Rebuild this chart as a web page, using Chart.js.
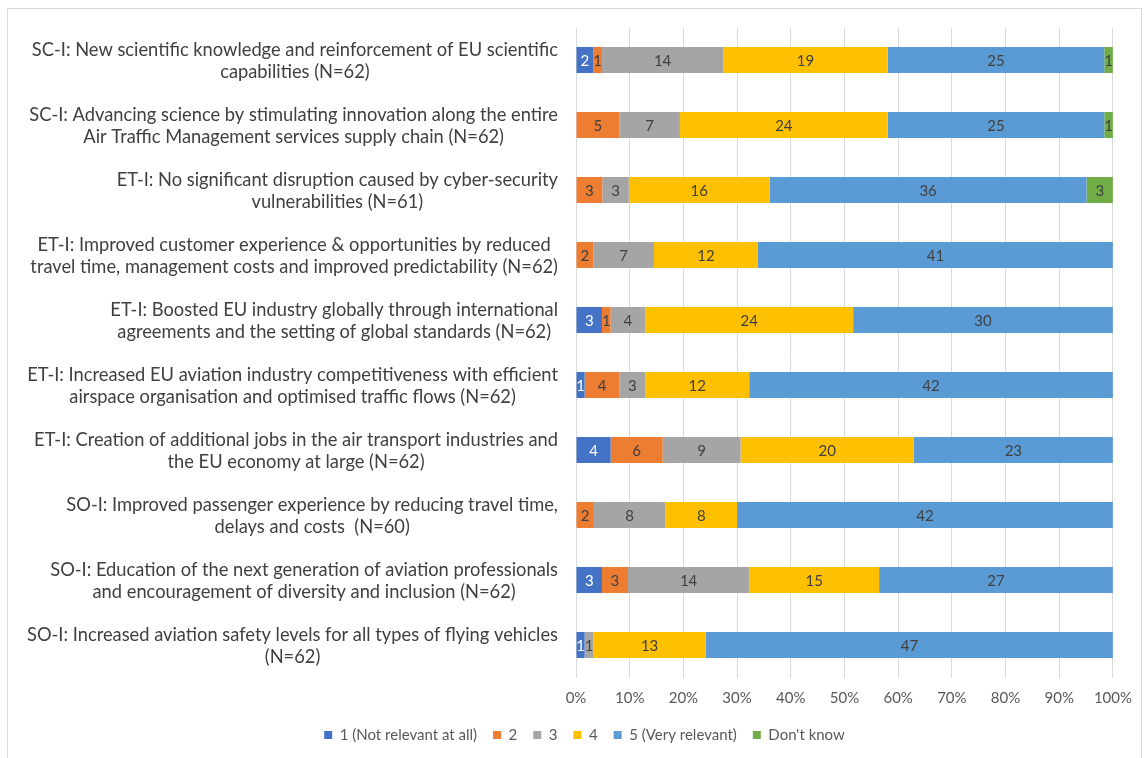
<!DOCTYPE html>
<html>
<head>
<meta charset="utf-8">
<script src="https://cdn.jsdelivr.net/npm/chart.js@4.4.0/dist/chart.umd.min.js"></script>
<style>
html, body { margin:0; padding:0; background:#fff; width:1144px; height:758px; overflow:hidden; }
#frame { position:absolute; left:7px; top:8px; width:1133px; height:800px; border:1px solid #d9d9d9; }
#c { position:absolute; left:0; top:0; }
</style>
</head>
<body>
<div id="frame"></div>
<canvas id="c" width="1144" height="780"></canvas>
<script>
var categories = [
    ["SC-I: New scientific knowledge and reinforcement of EU scientific", "capabilities (N=62)"],
    ["SC-I: Advancing science by stimulating innovation along the entire", "Air Traffic Management services supply chain (N=62)"],
    ["ET-I: No significant disruption caused by cyber-security", "vulnerabilities (N=61)"],
    ["ET-I: Improved customer experience & opportunities by reduced", "travel time, management costs and improved predictability (N=62)"],
    ["ET-I: Boosted EU industry globally through international", "agreements and the setting of global standards (N=62)"],
    ["ET-I: Increased EU aviation industry competitiveness with efficient", "airspace organisation and optimised traffic flows (N=62)"],
    ["ET-I: Creation of additional jobs in the air transport industries and", "the EU economy at large (N=62)"],
    ["SO-I: Improved passenger experience by reducing travel time,", "delays and costs  (N=60)"],
    ["SO-I: Education of the next generation of aviation professionals", "and encouragement of diversity and inclusion (N=62)"],
    ["SO-I: Increased aviation safety levels for all types of flying vehicles", "(N=62)"]
];
var seriesNames = ["1 (Not relevant at all)", "2", "3", "4", "5 (Very relevant)", "Don't know"];
var notRelevant  = [2, 0, 0, 0, 3, 1, 4, 0, 3, 1];
var score2       = [1, 5, 3, 2, 1, 4, 6, 2, 3, 0];
var score3       = [14, 7, 3, 7, 4, 3, 9, 8, 14, 1];
var score4       = [19, 24, 16, 12, 24, 12, 20, 8, 15, 13];
var veryRelevant = [25, 25, 36, 41, 30, 42, 23, 42, 27, 47];
var dontKnow     = [1, 1, 3, 0, 0, 0, 0, 0, 0, 0];
var xTickLabels  = ["0%", "10%", "20%", "30%", "40%", "50%", "60%", "70%", "80%", "90%", "100%"];

var colors = ['#4472C4', '#ED7D31', '#A5A5A5', '#FFC000', '#5B9BD5', '#70AD47'];
var counts = [notRelevant, score2, score3, score4, veryRelevant, dontKnow];

// totals per row, to turn counts into shares of 100%
var totals = categories.map(function(c, i){
    var s = 0;
    counts.forEach(function(arr){ s += arr[i]; });
    return s;
});

var datasets = counts.map(function(arr, k){
    return {
        label: seriesNames[k],
        data: arr.map(function(v, i){ return v / totals[i] * 100; }),
        counts: arr,
        backgroundColor: colors[k],
        borderWidth: 0,
        barPercentage: 0.4,
        categoryPercentage: 1.0
    };
});

var FONT = 'Lato, "Open Sans", sans-serif';

// value labels in the middle of each segment
var segmentLabels = {
    id: 'segmentLabels',
    afterDatasetsDraw: function(chart){
        var ctx = chart.ctx;
        ctx.save();
        ctx.font = '15px ' + FONT;
        ctx.textAlign = 'center';
        ctx.textBaseline = 'middle';
        chart.data.datasets.forEach(function(ds, k){
            var meta = chart.getDatasetMeta(k);
            meta.data.forEach(function(bar, i){
                var n = ds.counts[i];
                if (!n) return;
                ctx.fillStyle = k === 0 ? '#ffffff' : '#404040';
                ctx.fillText(String(n), (bar.x + bar.base) / 2, bar.y + 1);
            });
        });
        ctx.restore();
    }
};

// category labels: block right aligned to the axis, lines centered inside the block
var categoryLabels = {
    id: 'categoryLabels',
    afterDraw: function(chart){
        var ctx = chart.ctx, ys = chart.scales.y;
        var lh = 22;
        ctx.save();
        ctx.font = '18.3px ' + FONT;
        ctx.fillStyle = '#404040';
        ctx.textAlign = 'center';
        ctx.textBaseline = 'middle';
        var right = chart.chartArea.left - 18;
        categories.forEach(function(lines, i){
            var w = 0;
            lines.forEach(function(l){ w = Math.max(w, ctx.measureText(l).width); });
            var cx = right - w / 2;
            var y0 = ys.getPixelForTick(i) + 1 - (lines.length - 1) * lh / 2;
            lines.forEach(function(l, j){ ctx.fillText(l, cx, y0 + j * lh); });
        });
        ctx.restore();
    }
};

// shift the legend so it sits where the original one is
var legendShift = {
    id: 'legendShift',
    afterLayout: function(chart){
        chart.legend.left += 26;
        chart.legend.right += 26;
    }
};

var chart = new Chart(document.getElementById('c'), {
    type: 'bar',
    data: { labels: categories, datasets: datasets },
    plugins: [segmentLabels, categoryLabels, legendShift],
    options: {
        responsive: false,
        animation: false,
        indexAxis: 'y',
        layout: { padding: { left: 0, right: 27, top: 27.5, bottom: 27.5 } },
        plugins: {
            legend: {
                position: 'bottom',
                labels: {
                    boxWidth: 8, boxHeight: 8, padding: 16,
                    color: '#595959',
                    font: { family: FONT, size: 15 }
                }
            },
            tooltip: { enabled: false }
        },
        scales: {
            x: {
                stacked: true,
                min: 0, max: 100,
                ticks: {
                    stepSize: 10,
                    padding: 12,
                    color: '#595959',
                    font: { family: FONT, size: 15 },
                    callback: function(v, i){ return xTickLabels[i]; }
                },
                grid: { color: '#d9d9d9', drawTicks: false },
                border: { display: false },
                afterFit: function(scale){ scale.height = 34; }
            },
            y: {
                stacked: true,
                ticks: { display: false },
                grid: { display: false, drawTicks: false },
                border: { display: false },
                afterFit: function(scale){ scale.width = 576; }
            }
        }
    }
});
</script>
</body>
</html>
